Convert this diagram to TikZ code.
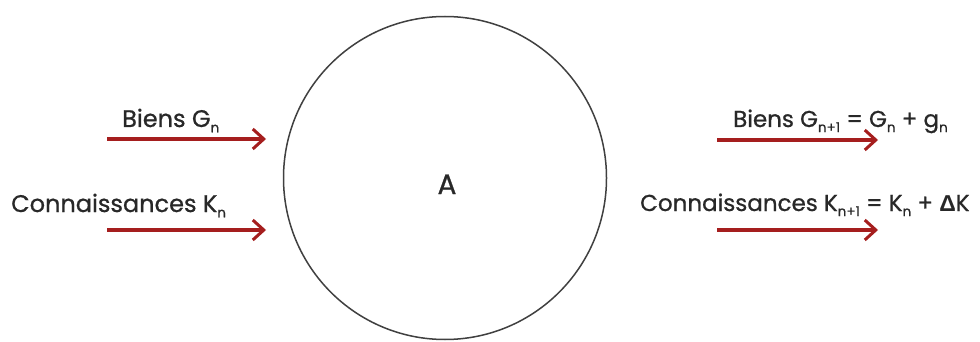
\documentclass[tikz,border=0pt]{standalone}
\usepackage{fontspec}
\setmainfont{Poppins}[AutoFakeBold=0.8]
\newfontfamily\deltafont{Liberation Sans}
\usetikzlibrary{arrows.meta}
\definecolor{arrowred}{RGB}{165,30,30}
\definecolor{txt}{RGB}{40,40,40}
\tikzset{
  flow/.style={draw=arrowred, line width=3.4pt, -{Straight Barb[length=11pt,width=20pt,line width=3pt]}},
  lbl/.style={text=txt, font=\fontsize{24}{27}\selectfont\bfseries, inner sep=0pt},
  rlbl/.style={lbl, font=\fontsize{23}{26}\selectfont\bfseries},
}
\newcommand{\sbs}[1]{\raisebox{-0.4ex}{\fontsize{13.5}{15}\selectfont #1}}
\begin{document}
\begin{tikzpicture}[x=1pt,y=-1pt]
\useasboundingbox[fill=white] (0,0) rectangle (980,342);
\node[draw=black!75, line width=1.5pt, circle, minimum size=323pt, inner sep=0pt] (A) at (445,178) {};
\node[lbl, font=\fontsize{28}{30}\selectfont\bfseries, anchor=base] (Alab) at (447,194) {A};
% left
\coordinate (l1s) at (107,139);
\coordinate (l1e) at (266,139);
\coordinate (l2s) at (107,230);
\coordinate (l2e) at (266,230);
\draw[flow] (l1s) -- (l1e);
\draw[flow] (l2s) -- (l2e);
\node[lbl, anchor=base west] (bg) at (122,127) {Biens G\sbs{n}};
\node[lbl, anchor=base west] (ck) at (11,212) {Connaissances K\sbs{n}};
% right
\coordinate (r1s) at (717,140);
\coordinate (r1e) at (878,140);
\coordinate (r2s) at (717,230);
\coordinate (r2e) at (878,230);
\draw[flow] (r1s) -- (r1e);
\draw[flow] (r2s) -- (r2e);
\node[rlbl, anchor=base west] (bg2) at (733,127) {Biens G\sbs{n+1} = G\sbs{n} + g\sbs{n}};
\node[rlbl, anchor=base west] (ck2) at (640,211) {Connaissances K\sbs{n+1} = K\sbs{n} + {\deltafont\bfseries Δ}K};
\end{tikzpicture}
\end{document}
